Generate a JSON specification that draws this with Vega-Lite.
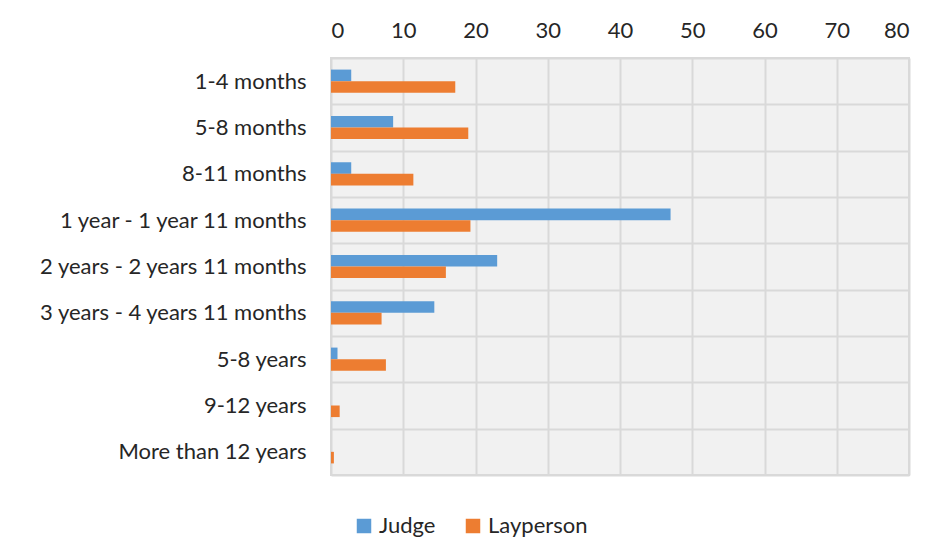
{
  "$schema": "https://vega.github.io/schema/vega-lite/v6.json",
  "width": 578,
  "height": 417,
  "padding": {"left": 38, "top": 19, "right": 10, "bottom": 5},
  "background": "white",
  "config": {
    "font": "Lato",
    "view": {"fill": "#f1f1f1", "stroke": "#d9d9d9", "strokeWidth": 2}
  },
  "data": {
    "values": [
      {"period": "1-4 months", "group": "Judge", "value": 2.8},
      {"period": "1-4 months", "group": "Layperson", "value": 17.2},
      {"period": "5-8 months", "group": "Judge", "value": 8.6},
      {"period": "5-8 months", "group": "Layperson", "value": 19.0},
      {"period": "8-11 months", "group": "Judge", "value": 2.8},
      {"period": "8-11 months", "group": "Layperson", "value": 11.4},
      {"period": "1 year - 1 year 11 months", "group": "Judge", "value": 47.0},
      {"period": "1 year - 1 year 11 months", "group": "Layperson", "value": 19.3},
      {"period": "2 years - 2 years 11 months", "group": "Judge", "value": 23.0},
      {"period": "2 years - 2 years 11 months", "group": "Layperson", "value": 15.9},
      {"period": "3 years - 4 years 11 months", "group": "Judge", "value": 14.3},
      {"period": "3 years - 4 years 11 months", "group": "Layperson", "value": 7.0},
      {"period": "5-8 years", "group": "Judge", "value": 0.9},
      {"period": "5-8 years", "group": "Layperson", "value": 7.6},
      {"period": "9-12 years", "group": "Judge", "value": 0},
      {"period": "9-12 years", "group": "Layperson", "value": 1.2},
      {"period": "More than 12 years", "group": "Judge", "value": 0},
      {"period": "More than 12 years", "group": "Layperson", "value": 0.4}
    ]
  },
  "mark": {"type": "bar"},
  "encoding": {
    "y": {
      "field": "period",
      "type": "nominal",
      "sort": null,
      "scale": {"paddingInner": 0, "paddingOuter": 0},
      "axis": {
        "title": null,
        "domain": false,
        "ticks": false,
        "tickBand": "extent",
        "grid": true,
        "gridColor": "#d9d9d9",
        "gridWidth": 2,
        "labelFontSize": 22,
        "labelColor": "#262626",
        "labelPadding": 25,
        "labelLimit": 400
      }
    },
    "yOffset": {
      "field": "group",
      "type": "nominal",
      "scale": {"paddingOuter": 1.25, "paddingInner": 0}
    },
    "x": {
      "field": "value",
      "type": "quantitative",
      "scale": {"domain": [0, 80], "nice": false},
      "axis": {
        "orient": "top",
        "title": null,
        "values": [0, 10, 20, 30, 40, 50, 60, 70, 80],
        "domain": false,
        "ticks": false,
        "grid": true,
        "gridColor": "#d9d9d9",
        "gridWidth": 2,
        "labelFontSize": 22,
        "labelColor": "#262626",
        "labelPadding": 16
      }
    },
    "color": {
      "field": "group",
      "type": "nominal",
      "scale": {"domain": ["Judge", "Layperson"], "range": ["#5b9bd5", "#ed7d31"]},
      "legend": {
        "title": null,
        "orient": "none",
        "legendX": 22,
        "legendY": 457,
        "direction": "horizontal",
        "symbolType": "square",
        "symbolSize": 210,
        "symbolStrokeWidth": 0,
        "labelFontSize": 22,
        "labelColor": "#262626",
        "columnPadding": 26
      }
    }
  }
}
